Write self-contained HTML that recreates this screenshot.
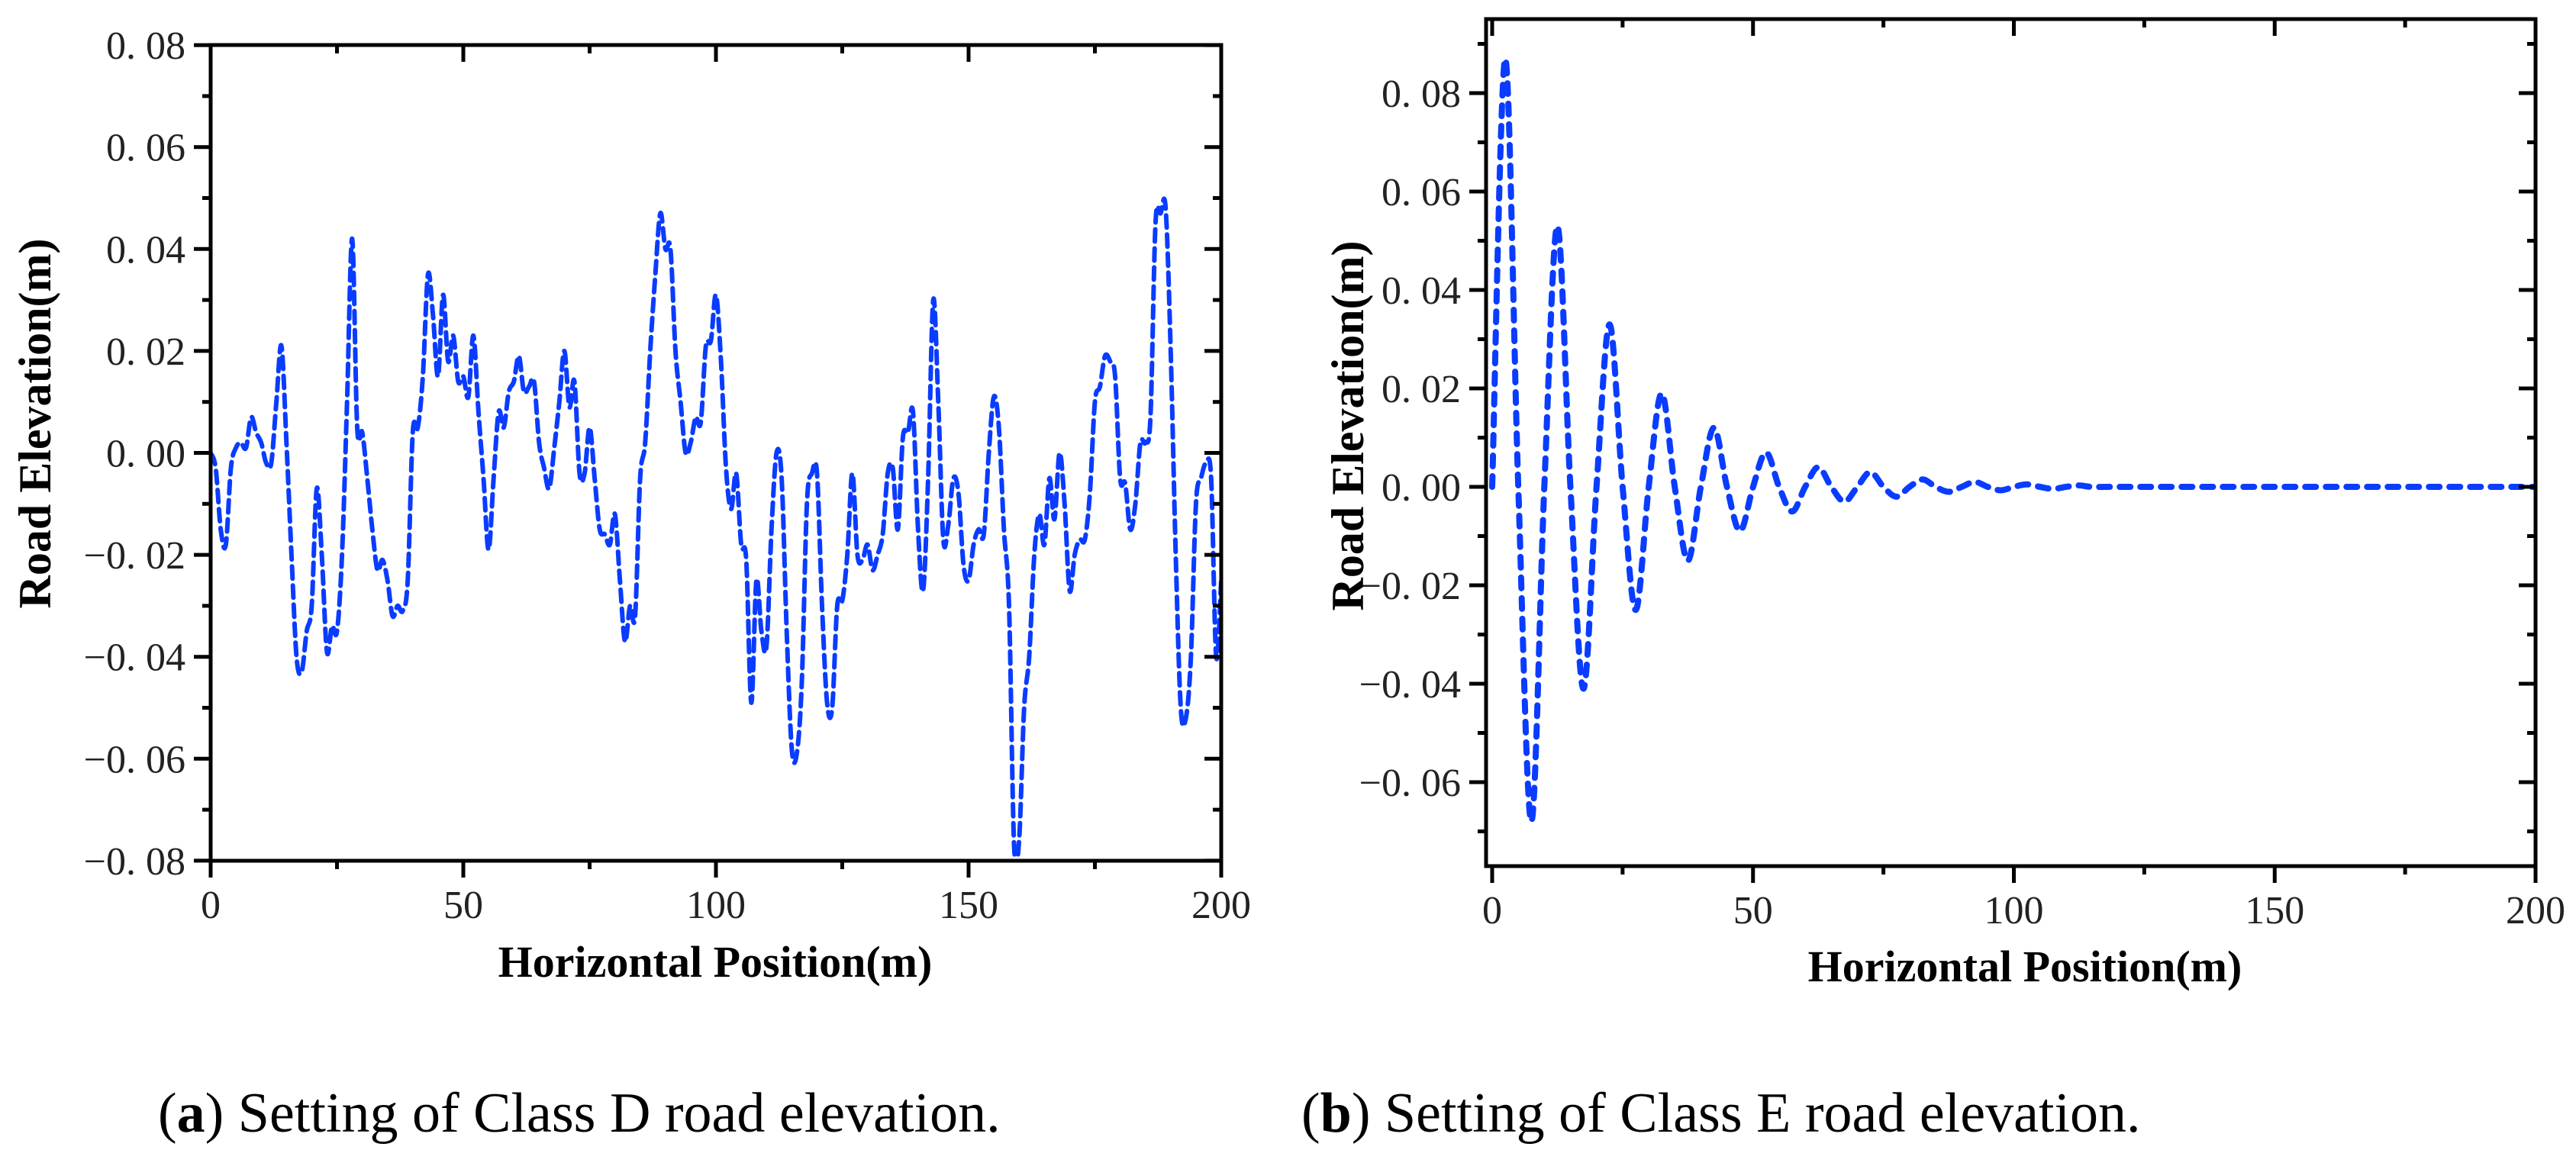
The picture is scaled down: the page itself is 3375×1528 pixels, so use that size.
<!DOCTYPE html>
<html><head><meta charset="utf-8"><style>
html,body{margin:0;padding:0;background:#fff;}
svg{display:block;}
</style></head><body>
<svg id="fig" width="3375" height="1528" viewBox="0 0 3375 1528" xmlns="http://www.w3.org/2000/svg"></svg>
<script>
// Panel (a) data: Class D road elevation
const xA = [];
for (let i = 0; i <= 200; i++) xA.push(i);
const yA = [0,-0.003,-0.015,-0.018,-0.003,0.001,0.002,0.001,0.007,0.004,0.002,-0.002,-0.002,0.01,0.021,0.002,-0.02,-0.04,-0.043,-0.035,-0.03,-0.007,-0.02,-0.039,-0.034,-0.035,-0.02,0.01,0.042,0.005,0.004,-0.005,-0.015,-0.023,-0.021,-0.025,-0.032,-0.03,-0.031,-0.025,0.004,0.005,0.015,0.035,0.027,0.015,0.031,0.018,0.023,0.014,0.015,0.011,0.023,0.008,-0.005,-0.019,-0.005,0.008,0.005,0.012,0.014,0.019,0.012,0.013,0.014,0.002,-0.003,-0.007,0.001,0.01,0.02,0.009,0.014,-0.004,-0.004,0.005,-0.005,-0.015,-0.016,-0.018,-0.012,-0.025,-0.037,-0.03,-0.032,-0.005,0.002,0.02,0.035,0.047,0.04,0.04,0.02,0.01,0.0,0.002,0.007,0.006,0.021,0.022,0.031,0.018,-0.003,-0.011,-0.004,-0.018,-0.021,-0.049,-0.025,-0.035,-0.038,-0.015,0.0,-0.005,-0.035,-0.058,-0.059,-0.045,-0.01,-0.004,-0.004,-0.03,-0.049,-0.05,-0.03,-0.029,-0.02,-0.004,-0.02,-0.021,-0.018,-0.023,-0.02,-0.016,-0.004,-0.003,-0.015,0.003,0.004,0.008,-0.015,-0.027,-0.005,0.03,0.01,-0.017,-0.014,-0.005,-0.008,-0.022,-0.025,-0.018,-0.015,-0.016,0.0,0.011,0.005,-0.015,-0.03,-0.077,-0.076,-0.05,-0.04,-0.02,-0.012,-0.018,-0.005,-0.013,0.0,-0.01,-0.027,-0.02,-0.017,-0.017,-0.008,0.01,0.013,0.019,0.018,0.015,-0.005,-0.006,-0.015,-0.01,0.002,0.002,0.007,0.045,0.047,0.048,0.02,-0.02,-0.05,-0.052,-0.04,-0.01,-0.005,-0.002,-0.005,-0.04,-0.025];
// Panel (b) data: Class E road elevation (damped)
const xB = [0,2.5,5,7.5,10,12.5,15,17.5,20,22.5,25,27.5,30,32.5,35,37.5,40,42.5,45,47.5,50,52.5,55,57.5,60,62.5,65,67.5,70,72.5,75,77.5,80,82.5,85,87.5,90,92.5,95,97.5,100,102.5,105,107.5,110,112.5,115,120,140,160,180,200];
const yB = [0,0.087,0,-0.068,0,0.053,0,-0.041,0,0.033,0,-0.025,0,0.019,0,-0.015,0,0.012,0,-0.009,0,0.007,0,-0.005,0,0.004,0,-0.003,0,0.003,0,-0.002,0,0.0015,0,-0.001,0,0.001,0,-0.0007,0,0.0005,0,-0.0004,0,0.0003,0,0,0,0,0,0];
const xTicks = [0,50,100,150,200];
const yTicksA = [-0.08,-0.06,-0.04,-0.02,0,0.02,0.04,0.06,0.08];
const yTicksB = [-0.06,-0.04,-0.02,0,0.02,0.04,0.06,0.08];

const NS = "http://www.w3.org/2000/svg";
const svg = document.getElementById('fig');
function el(tag, attrs, parent) {
  const e = document.createElementNS(NS, tag);
  for (const k in attrs) e.setAttribute(k, attrs[k]);
  (parent || svg).appendChild(e);
  return e;
}
function fmt(v) {
  const s = Math.abs(v).toFixed(2).replace('.', '. ');
  return (v < 0 ? '\u2212' : '') + s;
}
function smoothPath(pts) {
  let d = 'M' + pts[0][0].toFixed(1) + ' ' + pts[0][1].toFixed(1);
  for (let i = 0; i < pts.length - 1; i++) {
    const p0 = pts[i - 1] || pts[i], p1 = pts[i], p2 = pts[i + 1], p3 = pts[i + 2] || p2;
    const c1x = p1[0] + (p2[0] - p0[0]) / 6, c1y = p1[1] + (p2[1] - p0[1]) / 6;
    const c2x = p2[0] - (p3[0] - p1[0]) / 6, c2y = p2[1] - (p3[1] - p1[1]) / 6;
    d += ' C' + c1x.toFixed(1) + ' ' + c1y.toFixed(1) + ' ' + c2x.toFixed(1) + ' ' + c2y.toFixed(1) + ' ' + p2[0].toFixed(1) + ' ' + p2[1].toFixed(1);
  }
  return d;
}

function panel(cfg) {
  const g = el('g', {});
  
  
  const sx = v => cfg.x0 + (v - 0) / 200 * (cfg.x1 - cfg.x0);
  const sy = v => cfg.yZero - v / 0.02 * cfg.yStep;
  const pts = cfg.xs.map((x, i) => [sx(x), sy(cfg.ys[i])]);
  const clip = el('clipPath', {id: cfg.name + '-clip'}, g);
  el('rect', {x: cfg.L, y: cfg.T, width: cfg.R - cfg.L, height: cfg.B - cfg.T}, clip);
  const line = el('path', {d: smoothPath(pts), fill: 'none', stroke: '#0a3cff', 'stroke-width': cfg.sw, 'stroke-dasharray': cfg.dash, 'stroke-linecap': 'round', 'stroke-linejoin': 'round', 'clip-path': 'url(#' + cfg.name + '-clip)'}, g);
  
  
  const frame = el('rect', {x: cfg.L, y: cfg.T, width: cfg.R - cfg.L, height: cfg.B - cfg.T, fill: 'none', stroke: '#000', 'stroke-width': 5}, g);
  
  
  for (let i = 0; i < cfg.xTicks.length; i++) {
    const v = cfg.xTicks[i], px = sx(v);
    el('line', {x1: px, y1: cfg.B, x2: px, y2: cfg.B + 22, stroke: '#000', 'stroke-width': 5}, g);
    el('line', {x1: px, y1: cfg.T, x2: px, y2: cfg.T + 22, stroke: '#000', 'stroke-width': 5}, g);
    if (i < cfg.xTicks.length - 1) {
      const m = sx(v + 25);
      el('line', {x1: m, y1: cfg.B, x2: m, y2: cfg.B + 11, stroke: '#000', 'stroke-width': 5}, g);
      el('line', {x1: m, y1: cfg.T, x2: m, y2: cfg.T + 11, stroke: '#000', 'stroke-width': 5}, g);
    }
    const t = el('text', {x: px, y: cfg.B + 75, 'font-family': '"Liberation Serif", serif', 'font-size': 52, 'text-anchor': 'middle', fill: '#222'}, g);
    t.textContent = v;
    
    
  }
  for (let i = 0; i < cfg.yTicks.length; i++) {
    const v = cfg.yTicks[i], py = sy(v);
    el('line', {x1: cfg.L - 22, y1: py, x2: cfg.L, y2: py, stroke: '#000', 'stroke-width': 5}, g);
    el('line', {x1: cfg.R - 22, y1: py, x2: cfg.R, y2: py, stroke: '#000', 'stroke-width': 5}, g);
    const t = el('text', {x: cfg.L - 33, y: py + 18, 'font-family': '"Liberation Serif", serif', 'font-size': 52, 'text-anchor': 'end', fill: '#222'}, g);
    t.textContent = fmt(v);
    
    
  }
  for (let v = cfg.yTicks[0] - 0.01; v <= 0.1; v += 0.02) {
    const py = sy(v);
    if (py < cfg.T + 3 || py > cfg.B - 3) continue;
    el('line', {x1: cfg.L - 11, y1: py, x2: cfg.L, y2: py, stroke: '#000', 'stroke-width': 5}, g);
    el('line', {x1: cfg.R - 11, y1: py, x2: cfg.R, y2: py, stroke: '#000', 'stroke-width': 5}, g);
  }
  const xt = el('text', {x: cfg.xtX, y: cfg.xtY, 'font-family': '"Liberation Serif", serif', 'font-size': 58, 'font-weight': 'bold', 'text-anchor': 'middle', fill: '#000'}, g);
  xt.textContent = 'Horizontal Position(m)';
  
  
  const yt = el('text', {x: 0, y: 0, transform: 'translate(' + cfg.ytX + ',' + cfg.ytY + ') rotate(-90)', 'font-family': '"Liberation Serif", serif', 'font-size': 60, 'font-weight': 'bold', 'text-anchor': 'middle', fill: '#000'}, g);
  yt.textContent = 'Road Elevation(m)';
  
  
  const cap = el('text', {x: cfg.capX, y: 1483, 'font-family': '"Liberation Serif", serif', 'font-size': 74, fill: '#000'}, g);
  cap.innerHTML = '(<tspan font-weight="bold">' + cfg.capL + '</tspan>) ' + cfg.capT;
  
  
}

panel({name: 'panel-a-class-d', xs: xA, ys: yA, L: 276, R: 1600, T: 59, B: 1128, x0: 276, x1: 1600,
  yZero: 593.5, yStep: 133.6, xTicks: xTicks, yTicks: yTicksA, sw: 6, dash: '16 9',
  xtX: 937, xtY: 1280, ytX: 66, ytY: 555, capX: 207, capL: 'a', capT: 'Setting of Class D road elevation.'});
panel({name: 'panel-b-class-e', xs: xB, ys: yB, L: 1947, R: 3322, T: 25, B: 1135, x0: 1955, x1: 3322,
  yZero: 638, yStep: 129, xTicks: xTicks, yTicks: yTicksB, sw: 8, dash: '14 13',
  xtX: 2653, xtY: 1286, ytX: 1786, ytY: 558, capX: 1705, capL: 'b', capT: 'Setting of Class E road elevation.'});
</script>
</body></html>
